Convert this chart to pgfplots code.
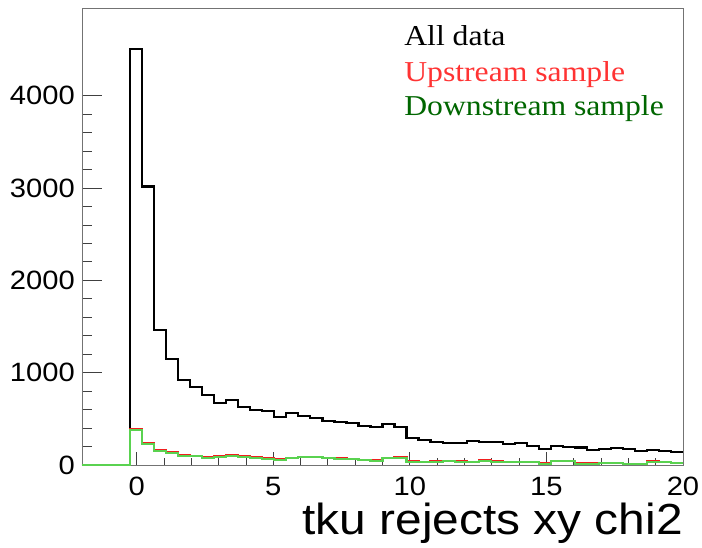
\documentclass[border=0pt]{standalone}
\usepackage{fontspec}
\usepackage{pgfplots}
\pgfplotsset{compat=1.18}
\newfontfamily\rootsans[FakeStretch=1.1]{Liberation Sans}
\newfontfamily\rootserif[FakeStretch=1.1]{Liberation Serif}
\definecolor{hred}{RGB}{240,30,30}
\definecolor{hgreen}{RGB}{90,210,80}
\definecolor{tred}{RGB}{255,51,51}
\definecolor{tgreen}{RGB}{0,102,0}
\begin{document}
\begin{tikzpicture}
\useasboundingbox (-82pt,-83pt) rectangle (620pt,465pt);
\begin{axis}[
  at={(0,0)}, anchor=south west, scale only axis,
  width=601pt, height=457pt,
  xmin=-2, xmax=20, ymin=0, ymax=4950,
  xtick={0,5,10,15,20}, ytick={0,1000,2000,3000,4000},
  minor x tick num=4, minor y tick num=4,
  tick align=inside, xtick pos=bottom, ytick pos=left,
  x tick style={/pgfplots/major tick length=13pt, /pgfplots/minor tick length=7pt},
  y tick style={/pgfplots/major tick length=20pt, /pgfplots/minor tick length=10pt},
  tick style={black!75, line width=0.8pt},
  axis line style={black!55, line width=0.8pt},
  clip=false,
  /pgf/number format/set thousands separator={},
  tick label style={font=\rootsans\fontsize{26.5}{26.5}\selectfont, /pgf/number format/assume math mode=true, inner sep=0pt},
  yticklabel style={anchor=east, xshift=-7pt},
  xticklabel style={anchor=north, yshift=-12pt},
  xlabel={tku rejects xy chi2},
  xlabel style={font=\rootsans\fontsize{43.5}{43.5}\selectfont, at={(axis description cs:1,0)}, anchor=base east, yshift=-70pt, inner sep=0pt},
]
\addplot[const plot, black, line width=2.2pt] coordinates {
(-2,0) (-1.56,0) (-1.12,0) (-0.68,0) (-0.24,4507) (0.2,3016) (0.64,1463) (1.08,1145) (1.52,921) (1.96,849)
(2.4,755) (2.84,668) (3.28,708) (3.72,632) (4.16,596) (4.6,585) (5.04,523) (5.48,563) (5.92,531) (6.36,513)
(6.8,480) (7.24,466) (7.68,459) (8.12,423) (8.56,412) (9.0,448) (9.44,412) (9.88,289) (10.32,274) (10.76,249)
(11.2,235) (11.64,242) (12.08,260) (12.52,253) (12.96,253) (13.4,224) (13.84,242) (14.28,206) (14.72,173) (15.16,209)
(15.6,192) (16.04,190) (16.48,159) (16.92,177) (17.36,184) (17.8,173) (18.24,152) (18.68,162) (19.12,151) (19.56,141)
(20,141)};
\addplot[const plot, hred, line width=2.2pt] coordinates {
(-2,0) (-1.56,0) (-1.12,0) (-0.68,0) (-0.24,387) (0.2,238) (0.64,166) (1.08,141) (1.52,112) (1.96,101)
(2.4,83) (2.84,94) (3.28,112) (3.72,101) (4.16,83) (4.6,70) (5.04,60) (5.48,80) (5.92,84) (6.36,88)
(6.8,78) (7.24,70) (7.68,62) (8.12,52) (8.56,48) (9.0,79) (9.44,83) (9.88,43) (10.32,33) (10.76,43)
(11.2,47) (11.64,43) (12.08,35) (12.52,51) (12.96,38) (13.4,30) (13.84,34) (14.28,34) (14.72,16) (15.16,40)
(15.6,40) (16.04,16) (16.48,16) (16.92,22) (17.36,22) (17.8,14) (18.24,14) (18.68,40) (19.12,33) (19.56,22)
(20,22)};
\addplot[const plot, hgreen, line width=2.2pt] coordinates {
(-2,0) (-1.56,0) (-1.12,0) (-0.68,0) (-0.24,379) (0.2,231) (0.64,155) (1.08,130) (1.52,101) (1.96,94)
(2.4,79) (2.84,90) (3.28,97) (3.72,90) (4.16,79) (4.6,68) (5.04,58) (5.48,79) (5.92,83) (6.36,87)
(6.8,76) (7.24,68) (7.68,61) (8.12,51) (8.56,47) (9.0,76) (9.44,72) (9.88,36) (10.32,29) (10.76,33)
(11.2,47) (11.64,36) (12.08,33) (12.52,43) (12.96,36) (13.4,29) (13.84,33) (14.28,33) (14.72,14) (15.16,40)
(15.6,40) (16.04,14) (16.48,14) (16.92,22) (17.36,22) (17.8,14) (18.24,14) (18.68,29) (19.12,33) (19.56,22)
(20,22)};
\node[anchor=base west, inner sep=0pt, font=\rootserif\fontsize{28.8}{28.8}\selectfont, text=black] at (axis description cs:0.536,0.919) {All data};
\node[anchor=base west, inner sep=0pt, font=\rootserif\fontsize{28.8}{28.8}\selectfont, text=tred] at (axis description cs:0.536,0.840) {Upstream sample};
\node[anchor=base west, inner sep=0pt, font=\rootserif\fontsize{28.8}{28.8}\selectfont, text=tgreen] at (axis description cs:0.536,0.764) {Downstream sample};
\end{axis}
\end{tikzpicture}
\end{document}
